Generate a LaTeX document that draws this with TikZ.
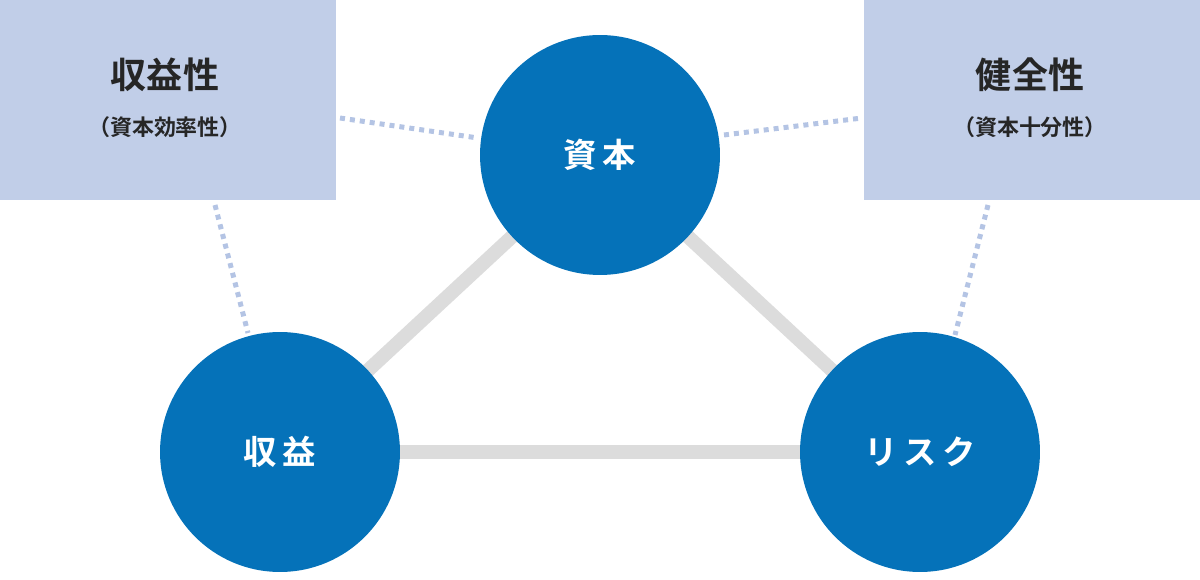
\documentclass[tikz,border=0pt]{standalone}
\usepackage{fontspec}
\setmainfont{Noto Sans CJK JP Bold}
\definecolor{circblue}{HTML}{0572B9}
\definecolor{boxblue}{HTML}{C1CEE8}
\definecolor{dotblue}{HTML}{B4C4E4}
\definecolor{linegray}{HTML}{DCDCDC}
\begin{document}
\begin{tikzpicture}[x=0.02cm,y=-0.02cm]
		\tikzstyle{core}=[circle,fill=circblue,minimum size=4.8cm,inner sep=0pt,text=white,font=\fontsize{19}{19}\selectfont]
		\tikzstyle{panel}=[fill=boxblue,minimum width=6.72cm,minimum height=4cm,inner sep=0pt]
		\tikzstyle{link}=[draw=linegray,line width=0.28cm]
		\tikzstyle{hint}=[draw=dotblue,line width=0.1cm,dash pattern=on 0.1cm off 0.1cm]
		\tikzstyle{title}=[font=\fontsize{20.5}{20.5}\selectfont,text=black!85]
		\tikzstyle{sub}=[font=\fontsize{12.5}{12.5}\selectfont,text=black!85]
		
		\useasboundingbox (0,0) rectangle (1200,580);
		
		% Draw the two panels
		\node[panel] (P-l) at (168,100) {};
		\node[panel] (P-r) at (1032,100) {};
		\node[title] (T-l) at (165,75) {収益性};
		\node[sub] at (165,127) {（資本効率性）};
		\node[title] (T-r) at (1030,75) {健全性};
		\node[sub] at (1030,127) {（資本十分性）};
		
		% Dotted hints
		\coordinate (d1) at (340,118);
		\coordinate (d2) at (478,138);
		\coordinate (d3) at (724,135);
		\coordinate (d4) at (862,118);
		\coordinate (d5) at (215,205);
		\coordinate (d6) at (248,333);
		\coordinate (d7) at (988,205);
		\coordinate (d8) at (955,335);
		\draw[hint] (d1) -- (d2);
		\draw[hint] (d3) -- (d4);
		\draw[hint] (d5) -- (d6);
		\draw[hint] (d7) -- (d8);
		
		% Triangle of links
		\coordinate (C-top) at (600,155);
		\coordinate (C-left) at (280,452);
		\coordinate (C-right) at (920,452);
		\draw[link] (C-top) -- (C-left) -- (C-right) -- cycle;
		
		% Draw the circles
		\node[core] (K) at (C-top) {資\,本};
		\node[core] (S) at (C-left) {収\,益};
		\node[core] (R) at (C-right) {リ\,ス\,ク};
\end{tikzpicture}
\end{document}
